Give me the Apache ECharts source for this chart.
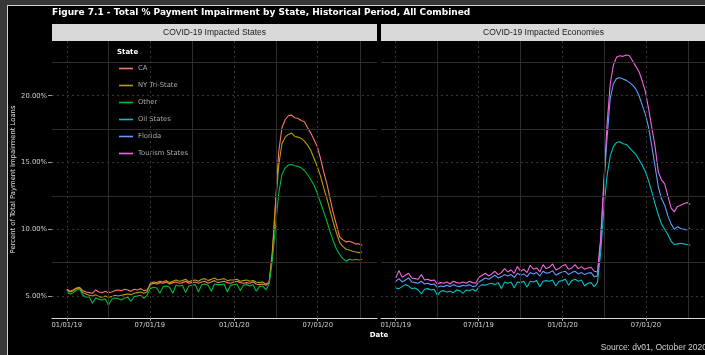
<!DOCTYPE html>
<html>
<head>
<meta charset="utf-8">
<script src="https://cdn.jsdelivr.net/npm/echarts@6/dist/echarts.min.js"></script>
<style>
  html, body { margin: 0; padding: 0; background: #000; }
  #chart { width: 705px; height: 355px; }
</style>
</head>
<body>
<div id="chart"></div>
<script>
// Weekly observations starting 2019-01-01, values in percent
const DAY = 86400000;
const firstWeek = Date.UTC(2019, 0, 1);

const seriesNames = ['CA', 'NY Tri-State', 'Other', 'Oil States', 'Florida', 'Tourism States'];
const seriesColors = ['#F8766D', '#B79F00', '#00BA38', '#00BFC4', '#619CFF', '#F564E3'];
const panelTitles = ['COVID-19 Impacted States', 'COVID-19 Impacted Economies'];

const caValues = [
  5.50, 5.35, 5.45, 5.60, 5.65, 5.40, 5.30, 5.25, 5.20, 5.45, 5.30, 5.25, 5.35,
  5.25, 5.30, 5.40, 5.45, 5.40, 5.50, 5.45, 5.35, 5.50, 5.45, 5.55, 5.40, 5.45,
  5.85, 5.95, 5.90, 6.00, 5.95, 6.05, 5.90, 6.00, 6.05, 5.95, 6.00, 6.10, 5.95,
  6.00, 6.05, 5.95, 6.05, 6.10, 5.95, 6.05, 6.15, 6.00, 6.05, 6.10, 6.00, 5.95,
  6.05, 6.10, 6.00, 5.95, 6.00, 5.95, 6.05, 5.90, 5.85, 5.90, 5.80,
  6.0, 8.3, 12.0, 15.8, 17.6, 18.2, 18.5, 18.55, 18.35, 18.3, 18.15, 18.05, 17.6,
  17.2, 16.7, 16.2, 15.3, 14.3, 13.4, 12.3, 11.2, 10.3, 9.4, 9.2, 9.05, 9.1, 9.0,
  8.9, 8.9, 8.8
];
const nyValues = [
  5.45, 5.30, 5.40, 5.55, 5.60, 5.25, 5.15, 5.05, 5.00, 5.10, 4.95, 4.90, 5.00,
  4.90, 4.95, 5.05, 5.00, 5.05, 5.10, 5.15, 5.10, 5.20, 5.25, 5.30, 5.20, 5.30,
  5.95, 6.05, 6.00, 6.10, 6.05, 6.15, 6.00, 6.10, 6.20, 6.10, 6.15, 6.25, 6.05,
  6.15, 6.20, 6.10, 6.25, 6.30, 6.15, 6.25, 6.35, 6.20, 6.25, 6.30, 6.15, 6.20,
  6.20, 6.25, 6.10, 6.15, 6.20, 6.10, 6.15, 6.05, 6.00, 6.05, 5.90,
  6.0, 8.0, 11.8, 14.8, 16.4, 16.9, 17.1, 17.2, 16.95, 16.9, 16.8, 16.6, 16.3,
  15.9, 15.3, 14.7, 14.0, 13.1, 12.3, 11.4, 10.5, 9.7, 9.0, 8.7, 8.5, 8.45, 8.35,
  8.3, 8.25, 8.3
];
const otherValues = [
  5.30, 5.15, 5.25, 5.45, 5.50, 5.05, 4.90, 4.95, 4.45, 4.85, 4.75, 4.70, 4.80,
  4.30, 4.75, 4.85, 4.80, 4.70, 4.85, 4.90, 4.60, 4.95, 5.00, 5.05, 4.85, 5.05,
  5.55, 5.65, 5.60, 5.20, 5.70, 5.75, 5.65, 5.20, 5.80, 5.75, 5.80, 5.25, 5.75,
  5.80, 5.85, 5.30, 5.85, 5.90, 5.80, 5.35, 5.90, 5.85, 5.85, 5.90, 5.30, 5.80,
  5.85, 5.90, 5.40, 5.80, 5.85, 5.75, 5.85, 5.35, 5.70, 5.75, 5.45,
  5.9, 7.6, 10.2, 12.7, 14.1, 14.6, 14.8, 14.85, 14.75, 14.7, 14.6, 14.4, 14.1,
  13.7, 13.3, 12.7, 12.0, 11.3, 10.6, 9.8, 9.1, 8.5, 8.1, 7.8, 7.6, 7.75, 7.7,
  7.75, 7.7, 7.75
];
const oilValues = [
  5.60, 5.55, 5.70, 5.85, 5.75, 5.55, 5.60, 5.45, 5.15, 5.50, 5.55, 5.45, 5.50,
  5.05, 5.35, 5.40, 5.30, 5.35, 5.25, 5.45, 5.40, 5.20, 5.45, 5.40, 5.50, 5.35,
  5.70, 5.85, 5.80, 5.90, 5.95, 5.85, 6.00, 5.55, 6.05, 5.95, 6.05, 5.60, 6.05,
  6.00, 6.10, 5.65, 6.10, 6.05, 6.15, 5.70, 6.10, 6.15, 6.10, 6.20, 5.75, 6.10,
  6.15, 6.25, 5.80, 6.15, 6.25, 6.10, 6.20, 5.75, 5.95, 6.00, 5.70,
  6.0, 8.2, 11.5, 14.0, 15.5, 16.2, 16.5, 16.55, 16.4, 16.35, 16.1, 15.85, 15.6,
  15.2, 14.8, 14.3, 13.6, 12.8, 11.9, 11.1, 10.4, 10.0, 9.6, 9.1, 8.85, 8.9, 8.95,
  8.9, 8.85, 8.8
];
const floridaValues = [
  6.10, 6.30, 6.05, 6.20, 6.35, 6.05, 6.00, 5.95, 6.10, 5.90, 5.95, 5.85, 5.90,
  5.65, 5.75, 5.70, 5.80, 5.70, 5.85, 5.75, 5.70, 5.80, 5.75, 5.85, 5.70, 5.75,
  6.05, 6.20, 6.35, 6.25, 6.40, 6.55, 6.35, 6.45, 6.60, 6.50, 6.60, 6.40, 6.70,
  6.55, 6.65, 6.45, 6.75, 6.65, 6.75, 6.50, 6.85, 6.70, 6.75, 6.90, 6.55, 6.70,
  6.80, 6.85, 6.60, 6.75, 6.85, 6.65, 6.75, 6.60, 6.70, 6.75, 6.45,
  6.5, 9.0, 13.3, 16.8, 19.8, 20.9, 21.3, 21.35, 21.25, 21.15, 21.0, 20.8, 20.5,
  20.0, 19.3, 18.6, 17.6, 16.2, 14.7, 13.2, 12.3, 11.8, 11.0, 10.4, 10.0, 10.2,
  10.05, 10.0, 9.95, 10.1
];
const tourismValues = [
  6.35, 6.90, 6.40, 6.55, 6.70, 6.35, 6.30, 6.25, 6.60, 6.20, 6.25, 6.15, 6.20,
  5.90, 6.00, 5.95, 6.05, 5.90, 6.10, 6.00, 5.95, 6.05, 5.95, 6.10, 6.00, 5.95,
  6.40, 6.55, 6.70, 6.50, 6.65, 6.85, 6.60, 6.75, 7.05, 6.80, 6.95, 6.70, 7.20,
  6.85, 7.00, 6.75, 7.30, 7.00, 7.10, 6.80, 7.35, 7.05, 7.15, 7.40, 6.95, 7.05,
  7.25, 7.35, 7.00, 7.10, 7.35, 7.05, 7.20, 7.00, 7.10, 7.15, 6.85,
  6.8, 9.3, 13.5, 17.8, 20.9, 22.3, 22.9, 23.0, 22.95, 23.05, 23.0, 22.6, 22.2,
  21.8, 21.1, 20.3, 19.0, 17.6, 16.2, 14.3, 13.7, 13.4, 12.5, 11.6, 11.3, 11.7,
  11.8, 11.9, 12.0, 11.85
];

// Axis ticks
const xTickDates = [Date.UTC(2019, 0, 1), Date.UTC(2019, 6, 1), Date.UTC(2020, 0, 1), Date.UTC(2020, 6, 1)];
const xTickLabels = ['01/01/19', '07/01/19', '01/01/20', '07/01/20'];
const xMinorDates = [Date.UTC(2019, 3, 1), Date.UTC(2019, 9, 1), Date.UTC(2020, 3, 1), Date.UTC(2020, 9, 1)];
const yTickValues = [5, 10, 15, 20];
const yMinorValues = [7.5, 12.5, 17.5, 22.5];

const xMin = firstWeek - 32.2 * DAY;
const xMax = firstWeek + 676.2 * DAY;
const yMin = 3.35;
const yMax = 24.1;

const toPairs = vals => vals.map((v, i) => [firstWeek + i * 7 * DAY, v]);

const panels = [
  { left: 52, series: [caValues, nyValues, otherValues], names: seriesNames.slice(0, 3), colors: seriesColors.slice(0, 3) },
  { left: 381, series: [oilValues, floridaValues, tourismValues], names: seriesNames.slice(3), colors: seriesColors.slice(3) }
];
const PANEL_W = 325, PANEL_TOP = 41, PANEL_H = 277;

const majorLine = { color: '#363636', type: [2, 3], width: 1 };
const minorLine = { color: '#2c2c2c', type: 'solid', width: 1 };

const grids = [], xAxes = [], yAxes = [], series = [];
panels.forEach((p, k) => {
  grids.push({ left: p.left, top: PANEL_TOP, width: PANEL_W, height: PANEL_H, containLabel: false });
  xAxes.push({
    type: 'value', gridIndex: k, min: xMin, max: xMax, scale: true,
    axisLine: { show: true, onZero: false, lineStyle: { color: '#d8d8d8', width: 1 } },
    axisTick: { show: true, customValues: xTickDates, length: 3, lineStyle: { color: '#999' } },
    axisLabel: {
      show: true, customValues: xTickDates, color: '#cfcfcf', fontSize: 6.8, fontFamily: 'DejaVu Sans', margin: 4,
      formatter: v => xTickLabels[xTickDates.indexOf(v)] || ''
    },
    splitLine: { show: false }
  });
  yAxes.push({
    type: 'value', gridIndex: k, min: yMin, max: yMax,
    axisLine: { show: false },
    axisTick: { show: k === 0, customValues: yTickValues, length: 4, lineStyle: { color: '#999' } },
    axisLabel: {
      show: k === 0, customValues: yTickValues, color: '#cfcfcf', fontSize: 6.8, fontFamily: 'DejaVu Sans', margin: 5,
      formatter: v => v.toFixed(2) + '%'
    },
    splitLine: { show: false },
    name: k === 0 ? 'Percent of Total Payment Impairment Loans' : '',
    nameLocation: 'middle', nameGap: 33, nameRotate: 90,
    nameTextStyle: { color: '#e0e0e0', fontSize: 6.8, fontFamily: 'DejaVu Sans' }
  });
  // panel grid lines
  series.push({
    type: 'line', xAxisIndex: k, yAxisIndex: k, data: [], z: 1, silent: true,
    markLine: {
      silent: true, symbol: ['none', 'none'], animation: false,
      label: { show: false }, emphasis: { disabled: true },
      data: [].concat(
        yMinorValues.map(v => ({ yAxis: v, lineStyle: minorLine })),
        xMinorDates.map(v => ({ xAxis: v, lineStyle: minorLine })),
        yTickValues.map(v => ({ yAxis: v, lineStyle: majorLine })),
        xTickDates.map(v => ({ xAxis: v, lineStyle: majorLine }))
      )
    }
  });
  p.series.forEach((vals, j) => {
    series.push({
      name: p.names[j], type: 'line', xAxisIndex: k, yAxisIndex: k,
      data: toPairs(vals), showSymbol: false, symbol: 'none', z: 3,
      lineStyle: { color: p.colors[j], width: 1.1 }, itemStyle: { color: p.colors[j] }
    });
  });
});

const graphics = [
  // page frame
  { type: 'rect', shape: { x: 0, y: 0, width: 705, height: 5 }, style: { fill: '#383838' }, z: 0 },
  { type: 'rect', shape: { x: 0, y: 0, width: 7, height: 355 }, style: { fill: '#383838' }, z: 0 },
  { type: 'rect', shape: { x: 7, y: 5, width: 698, height: 1 }, style: { fill: '#d0d0d0' }, z: 0 },
  { type: 'rect', shape: { x: 7, y: 5, width: 1, height: 350 }, style: { fill: '#d0d0d0' }, z: 0 },
  // legend heading
  { type: 'text', x: 117, y: 52, z: 100, style: { text: 'State', fill: '#ffffff', font: 'bold 7px "DejaVu Sans"', verticalAlign: 'middle' } },
  // shared x title and caption
  { type: 'text', x: 379, y: 335, style: { text: 'Date', fill: '#ffffff', font: 'bold 7px "DejaVu Sans"', align: 'center', verticalAlign: 'middle' } },
  { type: 'text', x: 707, y: 348, style: { text: 'Source: dv01, October 2020', fill: '#d0d0d0', font: '8.5px "Liberation Sans"', align: 'right', verticalAlign: 'middle' } }
];
panels.forEach((p, k) => {
  graphics.push({ type: 'rect', shape: { x: p.left, y: 24, width: PANEL_W, height: 17 }, style: { fill: '#d9d9d9' } });
  graphics.push({ type: 'text', x: p.left + PANEL_W / 2, y: 33, style: { text: panelTitles[k], fill: '#1a1a1a', font: '8.5px "Liberation Sans"', align: 'center', verticalAlign: 'middle' } });
});

const chart = echarts.init(document.getElementById('chart'), null, { renderer: 'canvas' });
chart.setOption({
  backgroundColor: '#000',
  animation: false,
  title: {
    text: 'Figure 7.1 - Total % Payment Impairment by State, Historical Period, All Combined',
    left: 50, top: 8, padding: [0, 2],
    textStyle: { color: '#ffffff', fontSize: 9, fontWeight: 'bold', fontFamily: 'DejaVu Sans' }
  },
  legend: {
    data: seriesNames, orient: 'vertical', left: 113, top: 42,
    padding: [23, 8, 8, 6], itemGap: 10, itemWidth: 14, itemHeight: 1.6, icon: 'rect',
    backgroundColor: '#000', selectedMode: false,
    textStyle: { color: '#aaaaaa', fontSize: 6.8, fontFamily: 'DejaVu Sans' }
  },
  grid: grids, xAxis: xAxes, yAxis: yAxes, series: series,
  graphic: graphics
});
</script>
</body>
</html>
